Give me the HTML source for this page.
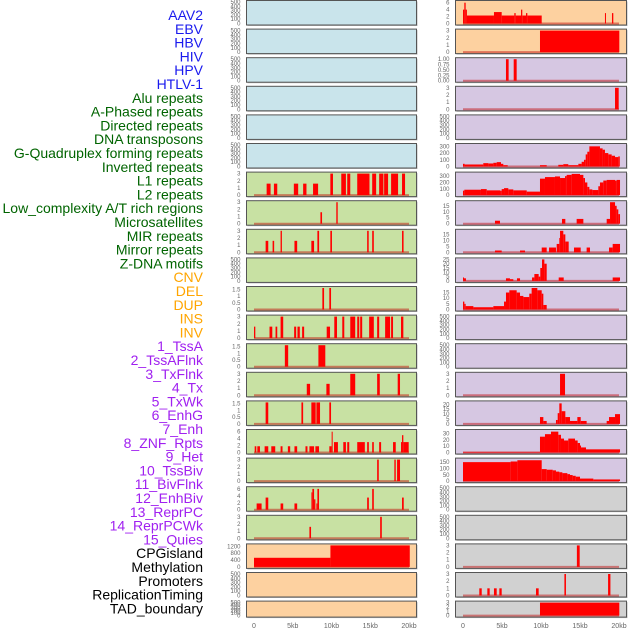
<!DOCTYPE html>
<html><head><meta charset="utf-8">
<style>
html,body{margin:0;padding:0;background:#fff;width:630px;height:630px;overflow:hidden}
svg{display:block}
text{font-family:"Liberation Sans",sans-serif}
</style></head>
<body>
<svg id="chart" width="630" height="630" viewBox="0 0 630 630" xmlns="http://www.w3.org/2000/svg"></svg>
<script>
// ---- labels ----
const trackLabels = ["AAV2","EBV","HBV","HIV","HPV","HTLV-1","Alu repeats","A-Phased repeats","Directed repeats","DNA transposons","G-Quadruplex forming repeats","Inverted repeats","L1 repeats","L2 repeats","Low_complexity A/T rich regions","Microsatellites","MIR repeats","Mirror repeats","Z-DNA motifs","CNV","DEL","DUP","INS","INV","1_TssA","2_TssAFlnk","3_TxFlnk","4_Tx","5_TxWk","6_EnhG","7_Enh","8_ZNF_Rpts","9_Het","10_TssBiv","11_BivFlnk","12_EnhBiv","13_ReprPC","14_ReprPCWk","15_Quies","CPGisland","Methylation","Promoters","ReplicationTiming","TAD_boundary"];
const labelColors = ["#1a1aee","#1a1aee","#1a1aee","#1a1aee","#1a1aee","#1a1aee","#006400","#006400","#006400","#006400","#006400","#006400","#006400","#006400","#006400","#006400","#006400","#006400","#006400","#ffa500","#ffa500","#ffa500","#ffa500","#ffa500","#a020f0","#a020f0","#a020f0","#a020f0","#a020f0","#a020f0","#a020f0","#a020f0","#a020f0","#a020f0","#a020f0","#a020f0","#a020f0","#a020f0","#a020f0","#000","#000","#000","#000","#000"];
const xTickValues = [0,5,10,15,20];
const xTickLabels = ["0","5kb","10kb","15kb","20kb"];

// ---- column 1 data: segments [startKb, endKb, value] ----
const col1Bg = ["blue","blue","blue","blue","blue","blue","green","green","green","green","green","green","green","green","green","green","green","green","green","peach","peach","peach"];
const col1Max = [500,500,500,500,500,500,3,3,3,500,1.6,3,1.6,3,1.6,6.2,3,6.2,3,1250,500,500];
const col1Ticks = [
 [0,100,200,300,400,500],[0,100,200,300,400,500],[0,100,200,300,400,500],[0,100,200,300,400,500],[0,100,200,300,400,500],[0,100,200,300,400,500],
 [0,1,2,3],[0,1,2,3],[0,1,2,3],[0,100,200,300,400,500],[0,0.5,1.0,1.5],[0,1,2,3],[0,0.5,1.0,1.5],[0,1,2,3],[0,0.5,1.0,1.5],[0,2,4,6],[0,1,2,3],[0,2,4,6],[0,1,2,3],[0,400,800,1200],[0,100,200,300,400,500],[0,100,200,300,400,500]];
const c1r6 = [[1.63,2.14,1.6],[2.57,3.0,1.6],[5.14,5.7,1.6],[6.34,6.77,1.6],[7.62,8.27,1.6],[9.85,10.19,3],[11.26,11.86,3],[12.03,12.42,3],[13.32,14.9,3],[15.25,15.76,3],[16.15,16.7,3],[16.79,17.3,3],[17.69,18.59,3],[19.1,19.49,3]];
const c1r7 = [[8.57,8.78,1.6],[10.62,10.8,3]];
const c1r8 = [[1.5,1.84,1.6],[2.4,2.6,1.6],[3.43,3.6,3],[5.22,5.57,1.6],[7.4,7.75,1.6],[8.18,8.4,3],[9.85,10.06,3],[14.6,14.8,3],[15.25,15.46,3],[19.1,19.3,3]];
const c1r10 = [[8.82,9.04,1.6],[9.72,9.94,1.6]];
const c1r11 = [[0,0.17,1.6],[2.0,2.36,1.6],[2.78,3.0,1.6],[3.43,3.77,3],[5.18,5.44,1.6],[5.61,5.91,1.6],[6.21,6.47,1.6],[9.38,9.81,1.6],[10.36,10.71,3],[11.39,11.65,3],[12.42,13.06,3],[13.32,13.58,3],[13.7,13.96,3],[14.86,15.46,3],[15.89,16.15,3],[16.92,17.56,3],[17.69,17.94,3],[18.97,19.27,3]];
const c1r12 = [[3.98,4.41,1.6],[8.31,9.2,1.6]];
const c1r13 = [[6.81,7.24,1.6],[9.34,9.76,1.6],[12.42,13.06,3],[15.89,16.23,3],[18.54,18.84,3]];
const c1r14 = [[1.5,1.84,1.6],[6.12,6.34,1.6],[7.4,7.96,1.6],[8.05,8.52,1.6],[9.72,9.94,1.6]];
const c1r15 = [[0.09,0.3,1.8],[0.43,0.77,1.8],[1.37,1.84,1.8],[2.23,2.74,1.8],[3.43,3.68,1.8],[4.37,4.67,1.8],[5.22,5.57,1.8],[6.64,6.9,1.8],[7.15,7.75,1.8],[7.92,8.39,1.8],[9.72,10.02,1.8],[10.02,10.15,6],[10.32,10.83,3],[11.52,11.86,3],[12.03,12.29,3],[13.32,14.3,3],[14.6,14.82,3],[15.25,15.46,3],[16.15,16.4,3],[17.94,18.29,3],[18.97,19.1,3],[19.1,19.27,5],[19.27,19.96,3]];
const c1r16 = [[15.89,16.1,3],[18.11,18.29,3],[18.46,18.84,3]];
const c1r17 = [[0.34,0.98,1.8],[1.5,1.84,3.5],[3.43,3.77,1.8],[5.22,5.57,1.8],[7.41,7.53,5],[7.53,7.75,6],[7.75,7.92,3],[8.05,8.18,1.8],[8.18,8.39,6],[14.6,14.82,3.5],[15.25,15.46,6],[19.1,19.32,3.5]];
const c1r18 = [[7.15,7.36,1.6],[16.28,16.49,3]];
const c1r19 = [[0,9.86,530],[9.86,20.1,1250]];
const col1Data = [[],[],[],[],[],[],c1r6,c1r7,c1r8,[],c1r10,c1r11,c1r12,c1r13,c1r14,c1r15,c1r16,c1r17,c1r18,c1r19,[],[]];

// ---- column 2 data ----
const col2Bg = ["peach","peach","lav","lav","lav","lav","lav","lav","lav","lav","lav","lav","lav","lav","lav","lav","lav","gray","gray","gray","gray","gray"];
const col2Max = [6.2,3,1,3,500,320,340,18,18,25,19,500,500,3,22,34,170,500,500,3,3,3];
const col2Ticks = [
 [0,2,4,6],[0,1,2,3],["0.00","0.25","0.50","0.75","1.00"],[0,1,2,3],[0,100,200,300,400,500],[0,100,200,300],[0,100,200,300],[0,5,10,15],[0,5,10,15],[0,5,10,15,20,25],[0,5,10,15],[0,100,200,300,400,500],[0,100,200,300,400,500],[0,1,2,3],[0,5,10,15,20],[0,10,20,30],[0,50,100,150],[0,100,200,300,400,500],[0,100,200,300,400,500],[0,1,2,3],[0,1,2,3],[0,1,2,3]];
const c2r0 = [[0,0.17,4],[0.17,0.34,6],[0.34,0.5,4],[0.5,3.97,2.3],[3.97,4.96,3.3],[4.96,6.58,2.3],[6.58,6.75,3],[6.75,7.44,2.3],[7.44,7.6,4],[7.6,8.08,2.3],[8.08,8.25,3],[8.25,10.09,2.3],[18.2,18.33,3],[19.1,19.27,3]];
const c2r1 = [[9.87,20.04,3]];
const c2r2 = [[5.51,5.85,1],[6.5,6.88,1]];
const c2r3 = [[19.49,19.96,3]];
const c2r5 = [[0,0.21,40],[0.21,2.6,30],[2.6,3.25,50],[3.25,3.89,45],[3.89,4.32,55],[4.32,4.87,65],[4.87,5.17,40],[5.17,5.73,20],[9.87,10.73,20],[12.22,12.86,25],[12.86,13.5,35],[13.5,14.79,20],[14.79,15.21,40],[15.21,15.51,70],[15.51,15.73,100],[15.73,15.94,180],[15.94,16.2,220],[16.2,17.56,300],[17.56,17.9,270],[17.9,18.2,250],[18.2,18.63,200],[18.63,19.06,180],[19.06,19.49,160],[19.49,19.91,140],[19.91,20.1,150]];
const c2r6 = [[0,0.17,70],[0.17,2.3,85],[2.3,3.04,95],[3.04,4.75,75],[4.75,4.96,70],[4.96,5.26,95],[5.26,5.81,110],[5.81,6.45,90],[6.45,8.17,75],[8.17,9.87,55],[9.87,10.51,260],[10.51,11.79,285],[11.79,12.44,295],[12.44,13.08,270],[13.08,13.29,300],[13.29,13.93,320],[13.93,15.0,335],[15.0,15.43,320],[15.43,15.64,270],[15.64,15.94,200],[15.94,16.2,130],[16.2,16.58,90],[16.58,17.35,80],[17.35,17.56,140],[17.56,17.99,200],[17.99,18.42,230],[18.42,19.49,240],[19.49,19.7,230],[19.7,20.13,240]];
const c2r7 = [[4.1,4.74,2.5],[12.69,13.12,4],[14.57,15.43,4],[18.42,18.85,4],[18.85,19.49,18],[19.49,19.7,15],[19.7,19.91,12],[19.91,20.13,8]];
const c2r8 = [[4.1,4.96,1.5],[7.31,7.95,1.5],[10.09,10.73,4],[11.03,11.92,4],[12.01,12.35,7],[12.35,12.44,12],[12.44,12.86,18],[12.86,13.12,15],[13.12,13.55,9],[14.23,15.09,4],[15.85,16.28,4],[18.72,19.19,4],[19.19,20.13,7]];
const c2r9 = [[0,0.13,4],[0.13,0.38,3],[5.51,6.02,3],[6.02,6.45,2],[6.92,7.31,3],[8.85,9.15,4],[9.15,9.7,8],[9.7,9.91,5],[9.91,10.13,15],[10.13,10.43,25],[10.43,10.73,20],[12.27,12.91,4],[19.19,20.13,4]];
const c2r10 = [[0,0.17,7],[0.17,0.34,5],[0.34,1.33,3],[1.33,3.89,2],[3.89,5.26,3],[5.26,5.51,7],[5.51,5.94,15],[5.94,6.88,17],[6.88,7.31,15],[7.31,7.74,12],[7.74,8.5,11],[8.5,8.8,14],[8.8,9.53,19],[9.53,10.09,17],[10.09,10.3,14],[10.3,10.73,4]];
const c2r13 = [[12.44,13.08,3]];
const c2r14 = [[9.87,10.3,7],[10.3,10.73,3],[11.92,12.14,4],[12.14,12.35,11],[12.35,12.65,21],[12.65,13.12,13],[13.12,13.72,7],[13.72,14.66,3],[14.66,15.09,7],[15.09,15.85,3],[18.42,18.72,3],[18.72,19.49,7],[19.49,20.13,10]];
const c2r15 = [[0,9.87,1],[9.87,10.51,25],[10.51,11.28,29],[11.28,12.22,33],[12.22,12.56,28],[12.56,12.95,22],[12.95,13.5,19],[13.5,14.36,22],[14.36,14.7,19],[14.7,15.0,15],[15.0,15.13,11],[15.13,15.77,8],[15.77,20.13,5]];
const c2r16 = [[0,6.11,150],[6.11,6.97,155],[6.97,10.09,165],[10.09,10.73,95],[10.73,11.5,90],[11.5,11.92,85],[11.92,12.35,75],[12.35,12.74,70],[12.74,13.38,63],[13.38,13.72,55],[13.72,14.06,48],[14.06,14.45,42],[14.45,15.0,35],[15.0,16.71,20],[16.71,20.13,13]];
const c2r19 = [[14.6,14.96,3]];
const c2r20 = [[2.09,2.4,1],[3.12,3.42,1],[3.97,4.32,1],[4.66,4.96,1],[9.36,9.7,1],[13.0,13.2,3],[18.6,18.9,3]];
const c2r21 = [[9.87,20.04,3]];
const col2Data = [c2r0,c2r1,c2r2,c2r3,[],c2r5,c2r6,c2r7,c2r8,c2r9,c2r10,[],[],c2r13,c2r14,c2r15,c2r16,[],[],c2r19,c2r20,c2r21];

const bgColors = {blue:"#c9e4eb",green:"#c8e1a3",peach:"#fdd1a0",lav:"#d6c7e2",gray:"#d1d1d1"};
const NS = "http://www.w3.org/2000/svg";
const svg = document.getElementById("chart");
function mk(tag, attrs, parent){ const e=document.createElementNS(NS,tag); for(const k in attrs) e.setAttribute(k,attrs[k]); (parent||svg).appendChild(e); return e; }

// labels
trackLabels.forEach((t,i)=>{
  const el = mk("text",{x:203,y:20+13.8*i,"text-anchor":"end","font-size":"14",fill:labelColors[i]});
  el.textContent = t;
  
  
});

function rowTop(i){ return 0.5 + 28.6*i; }
function rowH(i){ return i===21 ? 16 : 24.5; }

function drawColumn(colIdx, px0, px1, dx0, dx1, bgs, maxes, ticks, data){
  const xs = kb => dx0 + (dx1-dx0)*kb/20;
  for(let i=0;i<22;i++){
    const top=rowTop(i), h=rowH(i);
    const g = mk("g",{});
    
    
    mk("rect",{x:px0+1,y:top+1,width:px1-px0,height:h,fill:"#bbb"},g);
    mk("rect",{x:px0,y:top,width:px1-px0,height:h,fill:bgColors[bgs[i]],stroke:"#555","stroke-width":"1"},g);
    const yb = top+h-1.5, yt = top+1.5;
    const ys = v => yb - (yb-yt)*v/maxes[i];
    // y ticks
    ticks[i].forEach(tv=>{
      const v = parseFloat(tv);
      const t = mk("text",{x:px0-6,y:ys(v)+2,"text-anchor":"end","font-size":"6",fill:"#666"},g);
      t.textContent = String(tv);
      
      
    });
    if(data[i].length){
      mk("line",{x1:xs(0),x2:xs(20),y1:yb,y2:yb,stroke:"rgba(190,0,0,0.45)","stroke-width":"2"},g);
      data[i].forEach(s=>{
        if(s[2]<=0) return;
        const r = mk("rect",{x:xs(s[0]),y:ys(s[2]),width:Math.max(0.8,xs(s[1])-xs(s[0])),height:yb-ys(s[2]),fill:"#ff0000"},g);
        
        
      });
    }
  }
  xTickValues.forEach((v,k)=>{
    const t = mk("text",{x:xs(v),y:628,"text-anchor":"middle","font-size":"7",fill:"#666"});
    t.textContent = xTickLabels[k];
    
    
  });
}
drawColumn(1, 246.5, 416.5, 254, 409, col1Bg, col1Max, col1Ticks, col1Data);
drawColumn(2, 455.5, 626.5, 463, 619, col2Bg, col2Max, col2Ticks, col2Data);
</script>
</body></html>
